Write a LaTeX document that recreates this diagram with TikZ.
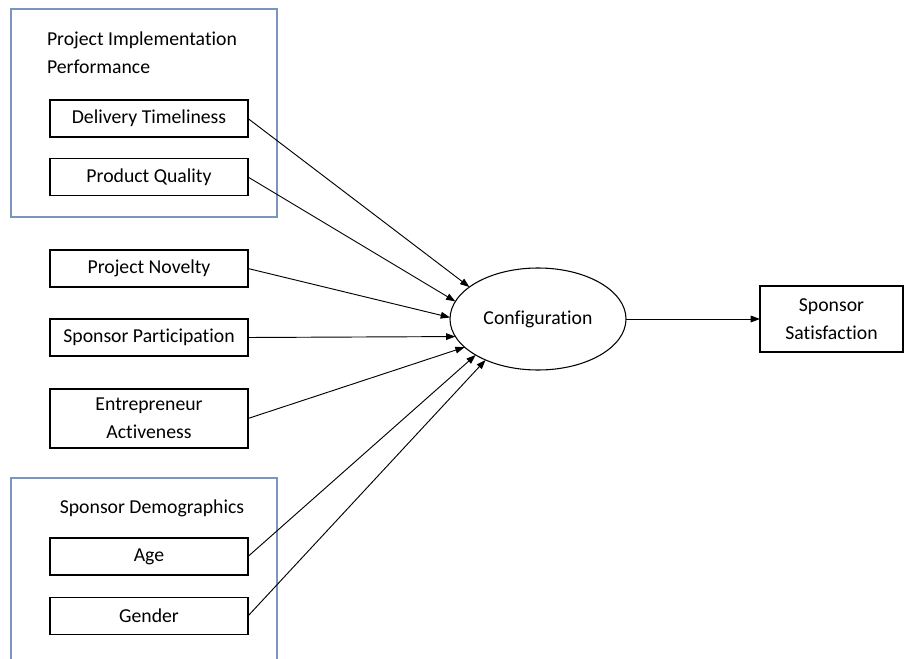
\documentclass[tikz,border=0pt]{standalone}
\usepackage{fontspec}
\setmainfont{Carlito}[Ligatures=NoCommon]
\usetikzlibrary{arrows.meta}
\usetikzlibrary{shapes.geometric}
\definecolor{grpblue}{RGB}{122,150,190}
\newcommand*{\diagfont}{\fontsize{14.8}{21}\selectfont}
\tikzset{
  box/.style={draw=black, line width=0.8pt, minimum width=148.5pt, minimum height=27.75pt,
    inner sep=0pt, outer sep=0pt, align=center, font=\diagfont},
  grp/.style={draw=grpblue, line width=0.8pt},
  lab/.style={inner sep=0pt, outer sep=0pt, font=\diagfont},
  link/.style={line width=0.7pt, -{Triangle[length=7pt,width=5pt]}}
}
\begin{document}
\begin{tikzpicture}[x=0.75pt, y=-0.75pt]
    \useasboundingbox (0,0) rectangle (905,659);
    % group frames
    \draw [grp] (11,9) rectangle (277,217);
    \draw [grp] (11,659) -- (11,478) -- (277,478) -- (277,659);
    \node [lab, anchor=north west, align=left] (pip) at (47,32) {Project Implementation\\Performance};
    \node [lab, anchor=base] (demo) at (152,513) {Sponsor Demographics};
    % antecedents
    \node [box] (dt) at (149,118.5) {Delivery Timeliness};
    \node [box] (pq) at (149,177) {Product Quality};
    \node [box] (pn) at (149,268.5) {Project Novelty};
    \node [box] (sp) at (149,337.5) {Sponsor Participation};
    \node [box, minimum height=44.25pt] (ea) at (149,418.5) {Entrepreneur\\Activeness};
    \node [box] (age) at (149,556.5) {Age};
    \node [box] (gen) at (149,616) {Gender};
    % configuration and outcome
    \node [draw, ellipse, line width=0.8pt, minimum width=132pt, minimum height=76.5pt,
           inner sep=0pt, outer sep=0pt, font=\diagfont] (cfg) at (538,319) {Configuration};
    \node [box, minimum width=107.25pt, minimum height=49.5pt] (ss) at (831.5,319) {Sponsor\\Satisfaction};
    % links
    \draw [link] (dt.east) -- (cfg.155);
    \draw [link] (pq.east) -- (cfg.168);
    \draw [link] (pn.east) -- (cfg.179);
    \draw [link] (sp.east) -- (cfg.192);
    \draw [link] (ea.east) -- (cfg.201);
    \draw [link] (age.east) -- (cfg.210);
    \draw [link] (gen.east) -- (cfg.218);
    \draw [link] (cfg.east) -- (ss.west);
\end{tikzpicture}
\end{document}
